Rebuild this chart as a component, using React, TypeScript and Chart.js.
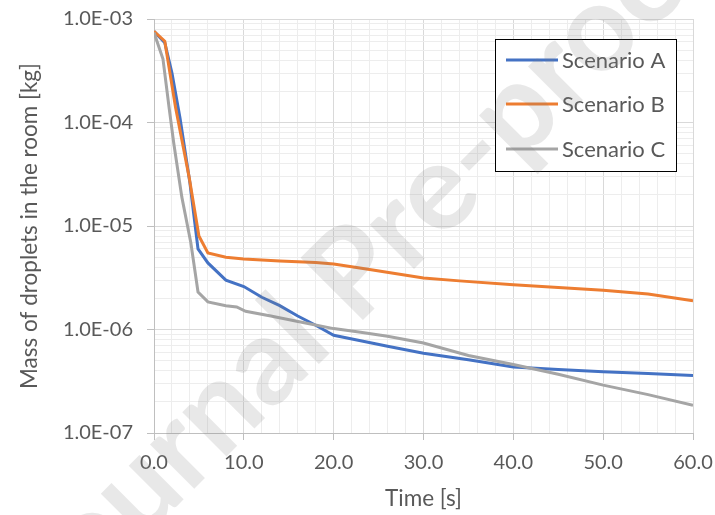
import React, { useEffect, useRef } from "react";
import { Chart, registerables } from "chart.js";

Chart.register(...registerables);

// ---- data ----
const SERIES_NAMES = ["Scenario A", "Scenario B", "Scenario C"];
const SERIES_COLORS = ["#4472C4", "#ED7D31", "#A5A5A5"];

const TIME_A = [0, 1.2, 2.0, 2.9, 4.0, 4.9, 6.0, 8.0, 10, 12, 14, 16, 18, 20, 23, 26, 30, 35, 40, 45, 50, 55, 60];
const MASS_A = [7.6e-4, 5.9e-4, 3.0e-4, 1.1e-4, 2.6e-5, 6.0e-6, 4.4e-6, 3.0e-6, 2.6e-6, 2.05e-6, 1.7e-6, 1.35e-6, 1.1e-6, 8.8e-7, 7.8e-7, 6.9e-7, 5.9e-7, 5.1e-7, 4.35e-7, 4.1e-7, 3.9e-7, 3.75e-7, 3.6e-7];

const TIME_B = [0, 1.2, 2.4, 3.9, 5.0, 6.0, 8.0, 10, 14, 18, 20, 24, 30, 34, 40, 45, 50, 55, 60];
const MASS_B = [7.6e-4, 6.1e-4, 1.4e-4, 3.0e-5, 8.0e-6, 5.5e-6, 5.0e-6, 4.8e-6, 4.6e-6, 4.45e-6, 4.3e-6, 3.8e-6, 3.15e-6, 2.95e-6, 2.7e-6, 2.55e-6, 2.4e-6, 2.2e-6, 1.9e-6];

const TIME_C = [0, 1.0, 1.7, 2.2, 3.1, 4.1, 4.9, 6.0, 8.0, 9.2, 10.2, 13, 17, 20, 23, 26, 30, 35, 40, 45, 50, 55, 60];
const MASS_C = [7.4e-4, 4.1e-4, 1.35e-4, 6.3e-5, 1.9e-5, 6.9e-6, 2.3e-6, 1.85e-6, 1.7e-6, 1.65e-6, 1.5e-6, 1.35e-6, 1.15e-6, 1.02e-6, 9.4e-7, 8.6e-7, 7.4e-7, 5.6e-7, 4.6e-7, 3.7e-7, 2.9e-7, 2.35e-7, 1.85e-7];

const X_MAJOR_TICKS = [0, 10, 20, 30, 40, 50, 60];
const X_TICK_LABELS = ["0.0", "10.0", "20.0", "30.0", "40.0", "50.0", "60.0"];
const X_MINOR_STEP = 2;

const Y_DECADES = [1e-7, 1e-6, 1e-5, 1e-4, 1e-3];
const Y_TICK_LABELS = ["1.0E-07", "1.0E-06", "1.0E-05", "1.0E-04", "1.0E-03"];
const Y_MINOR_FACTORS = [2, 3, 4, 5, 6, 7, 8, 9];

const X_TITLE = "Time [s]";
const Y_TITLE = "Mass of droplets in the room [kg]";
const WATERMARK_LEFT = "Journal ";
const WATERMARK_TEXT = "Journal Pre-proof";

// ---- styles ----
const FONT = "Lato, 'Open Sans', sans-serif";
const TEXT_COLOR = "#595959";
const GRID_MAJOR = "#d9d9d9";
const GRID_MINOR = "#ededed";
const AXIS_COLOR = "#bfbfbf";

const isDecade = (v: number) => {
  const l = Math.log10(v);
  return Math.abs(l - Math.round(l)) < 1e-9;
};

const legendPlugin = {
  id: "boxLegend",
  afterDatasetsDraw(chart: any) {
    const ctx = chart.ctx;
    const box = { x: 495.5, y: 39.5, w: 181, h: 132 };
    ctx.save();
    ctx.fillStyle = "#ffffff";
    ctx.fillRect(box.x, box.y, box.w, box.h);
    ctx.strokeStyle = "#000000";
    ctx.lineWidth = 1;
    ctx.strokeRect(box.x, box.y, box.w, box.h);
    const rows = [60, 104, 149];
    ctx.font = `22px ${FONT}`;
    ctx.textBaseline = "middle";
    ctx.textAlign = "left";
    SERIES_NAMES.forEach((name, i) => {
      ctx.strokeStyle = SERIES_COLORS[i];
      ctx.lineWidth = 3;
      ctx.beginPath();
      ctx.moveTo(506, rows[i]);
      ctx.lineTo(558, rows[i]);
      ctx.stroke();
      ctx.fillStyle = TEXT_COLOR;
      ctx.fillText(name, 562, rows[i] + 1);
    });
    ctx.restore();
  },
};

const watermarkPlugin = {
  id: "watermark",
  afterDraw(chart: any) {
    const ctx = chart.ctx;
    ctx.save();
    ctx.font = `bold 122px ${FONT}`;
    ctx.fillStyle = "rgba(128,128,128,0.18)";
    ctx.textBaseline = "alphabetic";
    ctx.textAlign = "left";
    ctx.translate(356, 327);
    ctx.rotate(-Math.PI / 4);
    const w = ctx.measureText(WATERMARK_LEFT).width;
    ctx.fillText(WATERMARK_TEXT, -w, 0);
    ctx.restore();
  },
};

export default function App() {
  const ref = useRef<HTMLCanvasElement | null>(null);

  useEffect(() => {
    if (!ref.current) return;
    const series = [
      { t: TIME_A, m: MASS_A },
      { t: TIME_B, m: MASS_B },
      { t: TIME_C, m: MASS_C },
    ];
    const chart = new Chart(ref.current, {
      type: "line",
      data: {
        datasets: series.map((s, i) => ({
          label: SERIES_NAMES[i],
          data: s.t.map((t, j) => ({ x: t, y: s.m[j] })),
          borderColor: SERIES_COLORS[i],
          backgroundColor: SERIES_COLORS[i],
          borderWidth: 3,
          pointRadius: 0,
          tension: 0,
          fill: false,
          order: 3 - i,
        })),
      },
      options: {
        animation: false,
        responsive: false,
        maintainAspectRatio: false,
        layout: { padding: { left: 0, right: 22, top: 19, bottom: 0 } },
        plugins: {
          legend: { display: false },
          tooltip: { enabled: false },
          title: { display: false },
        },
        scales: {
          x: {
            type: "linear",
            min: 0,
            max: 60,
            afterFit: (scale: any) => {
              scale.height = 82;
              scale.paddingLeft = 0;
              scale.paddingRight = 0;
            },
            afterBuildTicks: (scale: any) => {
              const ticks: any[] = [];
              for (let v = 0; v <= 60; v += X_MINOR_STEP) ticks.push({ value: v });
              scale.ticks = ticks;
            },
            ticks: {
              autoSkip: false,
              maxRotation: 0,
              padding: 11,
              color: TEXT_COLOR,
              font: { family: FONT, size: 20 },
              callback: (v: any) => {
                const k = X_MAJOR_TICKS.indexOf(Number(v));
                return k >= 0 ? X_TICK_LABELS[k] : "";
              },
            },
            grid: {
              color: (c: any) => (c.tick && X_MAJOR_TICKS.includes(c.tick.value) ? GRID_MAJOR : GRID_MINOR),
              tickColor: (c: any) => (c.tick && X_MAJOR_TICKS.includes(c.tick.value) ? AXIS_COLOR : "rgba(0,0,0,0)"),
              tickLength: 7,
              lineWidth: 1,
            },
            border: { color: AXIS_COLOR, width: 1 },
            title: {
              display: true,
              text: X_TITLE,
              color: TEXT_COLOR,
              font: { family: FONT, size: 22.5 },
              padding: { top: 0, bottom: 3 },
            },
          },
          y: {
            type: "logarithmic",
            min: 1e-7,
            max: 1e-3,
            afterFit: (scale: any) => {
              scale.width = 154;
              scale.paddingTop = 0;
              scale.paddingBottom = 0;
            },
            afterBuildTicks: (scale: any) => {
              const ticks: any[] = [];
              Y_DECADES.forEach((d, i) => {
                ticks.push({ value: d, major: true });
                if (i < Y_DECADES.length - 1) {
                  Y_MINOR_FACTORS.forEach((f) => ticks.push({ value: d * f, major: false }));
                }
              });
              scale.ticks = ticks;
            },
            ticks: {
              autoSkip: false,
              padding: 14,
              color: TEXT_COLOR,
              font: { family: FONT, size: 20 },
              callback: (v: any) => {
                const val = Number(v);
                if (!isDecade(val)) return "";
                const k = Y_DECADES.findIndex((d) => Math.abs(Math.log10(d) - Math.log10(val)) < 1e-6);
                return k >= 0 ? Y_TICK_LABELS[k] : "";
              },
            },
            grid: {
              color: (c: any) => (c.tick && isDecade(c.tick.value) ? GRID_MAJOR : GRID_MINOR),
              tickColor: (c: any) => (c.tick && isDecade(c.tick.value) ? AXIS_COLOR : "rgba(0,0,0,0)"),
              tickLength: 7,
              lineWidth: 1,
            },
            border: { color: AXIS_COLOR, width: 1 },
            title: {
              display: true,
              text: Y_TITLE,
              color: TEXT_COLOR,
              font: { family: FONT, size: 22.5 },
              padding: { top: 16, bottom: 0 },
            },
          },
        },
      },
      plugins: [legendPlugin, watermarkPlugin],
    } as any);
    return () => chart.destroy();
  }, []);

  return (
    <div style={{ position: "absolute", left: 0, top: 0, width: 715, height: 515, background: "#ffffff" }}>
      <canvas ref={ref} width={715} height={515} style={{ width: 715, height: 515 }} />
    </div>
  );
}
